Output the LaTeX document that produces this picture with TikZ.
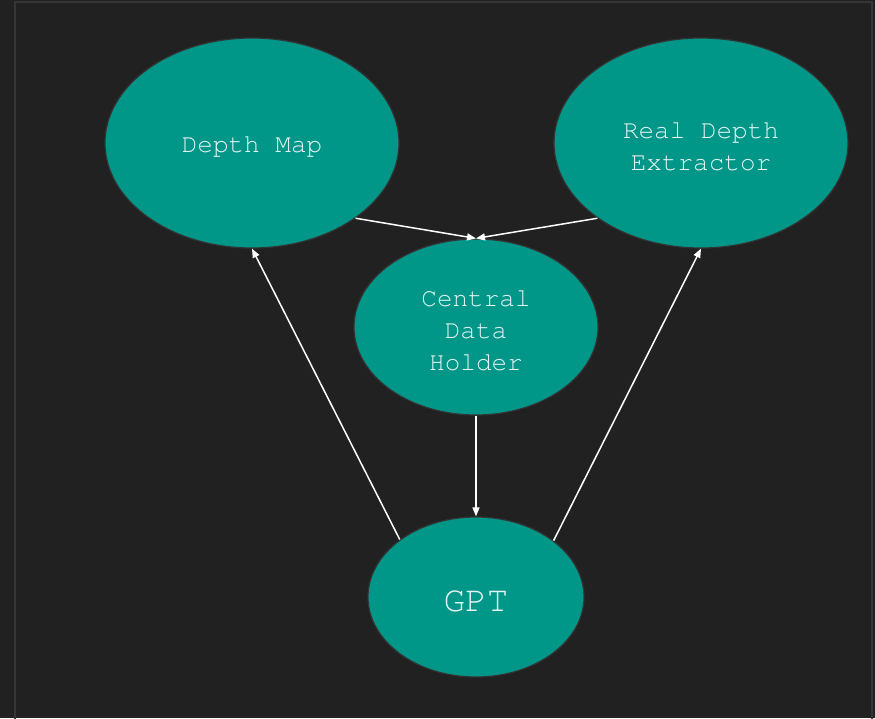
\documentclass[tikz,border=0pt]{standalone}
\usepackage{fontspec}
\newfontfamily\monofont{TeX Gyre Cursor}
\usetikzlibrary{shapes.geometric,arrows.meta}
\definecolor{bg}{HTML}{212121}
\definecolor{framec}{HTML}{363636}
\definecolor{teal}{HTML}{009688}
\definecolor{edgec}{HTML}{333333}
\definecolor{txt}{HTML}{E6F5F2}
\newcommand\lowr[1]{\raisebox{-4pt}[\height][\depth]{#1}}
\tikzset{
  blob/.style={ellipse, draw=edgec, line width=1.2pt, fill=teal, text=txt, inner sep=0pt, align=center,
    font=\monofont\fontsize{26}{32}\selectfont},
  link/.style={draw=white, line width=1.5pt, -{Triangle[length=9pt,width=7pt]}}
}
\begin{document}
\begin{tikzpicture}[x=1pt,y=-1pt]
\fill[bg] (0,0) rectangle (875,718);
\useasboundingbox (0,0) rectangle (875,718);
\draw[framec, line width=2pt] (15,730) -- (15,2) -- (872,2) -- (872,730);
\node[blob, minimum width=294pt, minimum height=210pt] (dm) at (252,143) {\lowr{Depth Map}};
\node[blob, minimum width=294pt, minimum height=210pt] (rde) at (701,143) {\lowr{Real Depth}\\\lowr{Extractor}};
\node[blob, minimum width=244pt, minimum height=176pt] (cdh) at (476,327) {\lowr{Central}\\\lowr{Data}\\\lowr{Holder}};
\node[blob, minimum width=216pt, minimum height=160pt, font=\monofont\fontsize{36}{40}\selectfont] (gpt) at (476,597) {\lowr{GPT}};
\draw[link] (dm.-36) -- (cdh.north);
\draw[link] (rde.-144) -- (cdh.north);
\draw[link] (cdh.south) -- (gpt.north);
\draw[link] (gpt.143.5) -- (dm.south);
\draw[link] (gpt.36.5) -- (rde.south);
\end{tikzpicture}
\end{document}
